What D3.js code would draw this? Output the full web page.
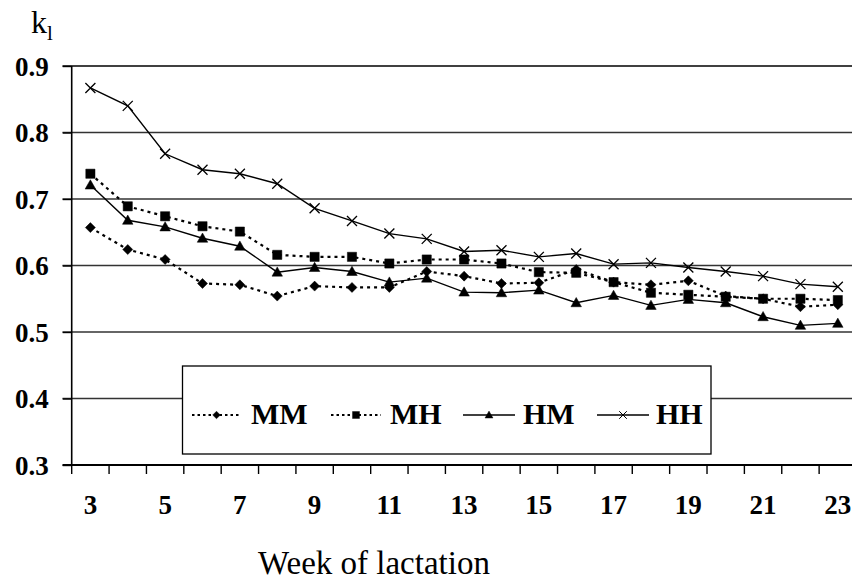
<!DOCTYPE html>
<html>
<head>
<meta charset="utf-8">
<script src="https://cdn.jsdelivr.net/npm/d3@7/dist/d3.min.js"></script>
<style>
  html, body { margin: 0; padding: 0; background: #fff; }
  svg { display: block; }
  svg text { font-family: "Liberation Serif", "Times New Roman", Tinos, Times, "DejaVu Serif", serif; }
</style>
</head>
<body>
<svg id="chart" width="852" height="582"></svg>
<script>
const weeks = [3,4,5,6,7,8,9,10,11,12,13,14,15,16,17,18,19,20,21,22,23];
const tickLabels = [3,5,7,9,11,13,15,17,19,21,23];
const yTicks = [0.3,0.4,0.5,0.6,0.7,0.8,0.9];
const seriesNames = ["MM","MH","HM","HH"];
const MM = [0.657,0.624,0.609,0.573,0.571,0.554,0.569,0.567,0.567,0.591,0.584,0.573,0.574,0.594,0.575,0.571,0.577,0.554,0.550,0.538,0.541];
const MH = [0.738,0.689,0.674,0.659,0.651,0.616,0.613,0.613,0.603,0.609,0.609,0.603,0.590,0.589,0.575,0.559,0.556,0.553,0.550,0.550,0.548];
const HM = [0.721,0.668,0.658,0.641,0.629,0.590,0.597,0.591,0.575,0.581,0.560,0.559,0.563,0.544,0.555,0.540,0.549,0.544,0.523,0.510,0.513];
const HH = [0.867,0.840,0.768,0.744,0.738,0.723,0.686,0.667,0.648,0.640,0.621,0.623,0.613,0.618,0.602,0.604,0.597,0.591,0.584,0.572,0.568];

const svg = d3.select("#chart");
const x = d3.scaleBand().domain(weeks).range([71.7, 856.5]).padding(0);
const y = d3.scaleLinear().domain([0.3, 0.9]).range([465, 66]);
const cx = d => x(d) + x.bandwidth() / 2;

// gridlines
svg.append("g").selectAll("line").data(yTicks.filter(t => t > 0.3)).join("line")
  .attr("x1", 62.5).attr("x2", 852)
  .attr("y1", d => y(d)).attr("y2", d => y(d))
  .attr("stroke", d => d === 0.9 ? "#000" : "#333").attr("stroke-width", 1.4);

// y axis
const yAxis = d3.axisLeft(y).tickValues(yTicks).tickSize(9).tickPadding(0).tickFormat(d3.format(".1f"));
const gy = svg.append("g").attr("transform", "translate(71.7,0)").call(yAxis);
gy.attr("font-family", null).attr("font-size", null);
gy.select(".domain").remove();
gy.selectAll(".tick line").attr("stroke", "#000").attr("stroke-width", 1.4);
gy.selectAll(".tick text").attr("x", -23).attr("dy", "0.34em")
  .attr("font-weight", "bold").attr("font-size", 27).attr("fill", "#000");
svg.append("line").attr("x1", 71.7).attr("x2", 71.7).attr("y1", y(0.9)).attr("y2", y(0.3))
  .attr("stroke", "#000").attr("stroke-width", 1.6);

// x axis
const xAxisLine = d3.scaleLinear().domain([0, weeks.length]).range([71.7, 856.5]);
svg.append("line").attr("x1", 62.5).attr("x2", 852).attr("y1", y(0.3)).attr("y2", y(0.3))
  .attr("stroke", "#000").attr("stroke-width", 2);
svg.append("g").selectAll("line").data(d3.range(0, weeks.length)).join("line")
  .attr("x1", d => xAxisLine(d)).attr("x2", d => xAxisLine(d))
  .attr("y1", y(0.3)).attr("y2", y(0.3) + 9)
  .attr("stroke", "#000").attr("stroke-width", 1.4);
svg.append("g").selectAll("text").data(tickLabels).join("text")
  .attr("x", d => cx(d)).attr("y", 514)
  .attr("text-anchor", "middle")
  .attr("font-weight", "bold").attr("font-size", 27)
  .text(d => d);

// axis titles
svg.append("text").attr("x", 258).attr("y", 574)
  .attr("font-size", 33).text("Week of lactation");
const kt = svg.append("text").attr("x", 31).attr("y", 33)
  .attr("font-size", 32);
kt.append("tspan").text("k");
kt.append("tspan").attr("font-size", 21).attr("dy", 7).text("l");

// markers
function markerPath(type, s) {
  if (type === "diamond") return `M0,${-s}L${s},0L0,${s}L${-s},0Z`;
  if (type === "square") return `M${-s},${-s}H${s}V${s}H${-s}Z`;
  if (type === "triangle") return `M0,${-s*1.05}L${s*1.05},${s*0.8}L${-s*1.05},${s*0.8}Z`;
  return `M${-s},${-s}L${s},${s}M${-s},${s}L${s},${-s}`;
}
const series = [
  { name: "MM", values: MM, dash: "3,4", width: 2.2, marker: "diamond", ms: 5 },
  { name: "MH", values: MH, dash: "3,4", width: 2.2, marker: "square", ms: 4.6 },
  { name: "HM", values: HM, dash: null, width: 1.4, marker: "triangle", ms: 5 },
  { name: "HH", values: HH, dash: null, width: 1.4, marker: "cross", ms: 5 }
];
const line = d3.line().x((d, i) => cx(weeks[i])).y(d => y(d));

series.forEach(s => {
  svg.append("path").datum(s.values)
    .attr("d", line).attr("fill", "none").attr("stroke", "#000")
    .attr("stroke-width", s.width).attr("stroke-dasharray", s.dash);
  svg.append("g").selectAll("path").data(s.values).join("path")
    .attr("transform", (d, i) => `translate(${cx(weeks[i])},${y(d)})`)
    .attr("d", markerPath(s.marker, s.ms))
    .attr("fill", s.marker === "cross" ? "none" : "#000")
    .attr("stroke", "#000").attr("stroke-width", s.marker === "cross" ? 1.3 : 0.5);
});

// legend
const lg = svg.append("g");
lg.append("rect").attr("x", 182.5).attr("y", 366).attr("width", 528.5).attr("height", 88)
  .attr("fill", "#fff").attr("stroke", "#000").attr("stroke-width", 1.3);
const legendItems = [
  { s: series[0], x1: 192, x2: 241, tx: 251 },
  { s: series[1], x1: 331, x2: 381, tx: 390 },
  { s: series[2], x1: 463, x2: 515, tx: 523 },
  { s: series[3], x1: 597, x2: 649, tx: 656 }
];
const ly = 415;
legendItems.forEach(it => {
  lg.append("line").attr("x1", it.x1).attr("x2", it.x2).attr("y1", ly).attr("y2", ly)
    .attr("stroke", "#000").attr("stroke-width", it.s.dash ? 2 : 1.3)
    .attr("stroke-dasharray", it.s.dash ? "2.5,3" : null);
  lg.append("path").attr("transform", `translate(${(it.x1 + it.x2) / 2},${ly})`)
    .attr("d", markerPath(it.s.marker, it.s.marker === "square" ? 3.5 : 3.8))
    .attr("fill", it.s.marker === "cross" ? "none" : "#000")
    .attr("stroke", "#000").attr("stroke-width", it.s.marker === "cross" ? 1 : 0.4);
  lg.append("text").attr("x", it.tx).attr("y", 424)
    .attr("font-weight", "bold").attr("font-size", 30)
    .text(it.s.name);
});
</script>
</body>
</html>
